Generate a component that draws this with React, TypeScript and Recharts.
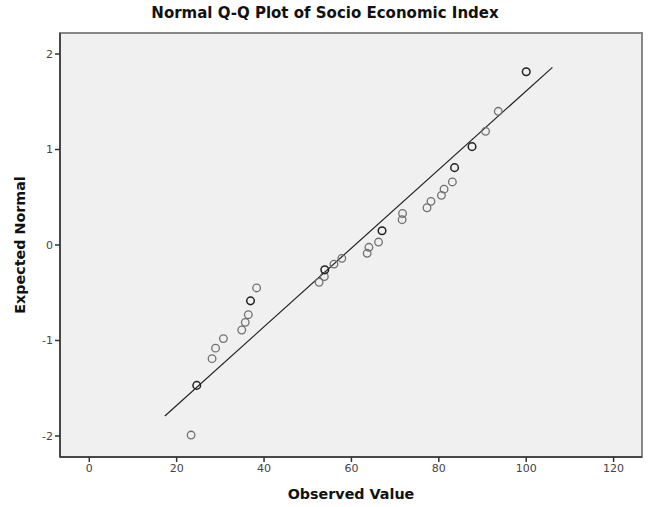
import React from 'react';
import {
  ScatterChart,
  Scatter,
  XAxis,
  YAxis,
  ReferenceArea,
  ReferenceLine,
  Label,
} from 'recharts';

// observed Socio Economic Index values and their expected normal quantiles
const observed = [
  23.3, 24.6, 28.1, 28.9, 30.7, 34.9, 35.7, 36.4, 36.9, 38.3, 52.6, 53.8, 53.9, 56.0, 57.8, 63.6,
  64.0, 66.2, 67.0, 71.6, 71.7, 77.3, 78.2, 80.6, 81.2, 83.1, 83.6, 87.6, 90.7, 93.6, 100.0,
];
const expected = [
  -1.99, -1.47, -1.19, -1.08, -0.98, -0.89, -0.81, -0.73, -0.585, -0.45, -0.39, -0.33, -0.26, -0.2,
  -0.14, -0.087, -0.024, 0.031, 0.15, 0.265, 0.33, 0.39, 0.457, 0.52, 0.585, 0.66, 0.81, 1.03, 1.19,
  1.4, 1.815,
];
// values that occur more than once (drawn darker)
const tiedValues = [24.6, 36.9, 53.9, 67.0, 83.6, 87.6, 100.0];

// reference line ends
const lineX = [17.3, 106.0];
const lineY = [-1.79, 1.86];

const xTicks = [0, 20, 40, 60, 80, 100, 120];
const yTicks = [-2, -1, 0, 1, 2];
const xDomain = [-6.7, 126.5];
const yDomain = [-2.22, 2.22];

const points = observed.map((x, i) => ({ x, y: expected[i] }));
const singles = points.filter((p) => !tiedValues.includes(p.x));
const ties = points.filter((p) => tiedValues.includes(p.x));

const FONT = '"DejaVu Sans", Verdana, sans-serif';

function ring(color: string, width: number) {
  return (props: any) => (
    <circle cx={props.cx} cy={props.cy} r={3.8} fill="none" stroke={color} strokeWidth={width} />
  );
}

export default function App() {
  return (
    <div style={{ position: 'absolute', left: 0, top: 0, width: 650, height: 507, background: '#fff' }}>
      <div
        style={{
          position: 'absolute',
          top: 4,
          left: 0,
          width: 650,
          textAlign: 'center',
          fontFamily: FONT,
          fontWeight: 'bold',
          fontSize: 15,
          color: '#111',
        }}
      >
        Normal Q-Q Plot of Socio Economic Index
      </div>
      <ScatterChart width={650} height={507} margin={{ top: 33, right: 8, bottom: 20, left: 0 }}>
        <XAxis
          type="number"
          dataKey="x"
          domain={xDomain}
          ticks={xTicks}
          allowDataOverflow
          height={30}
          axisLine={{ stroke: '#333', strokeWidth: 1.5 }}
          tickLine={{ stroke: '#333', strokeWidth: 1.5 }}
          tickSize={5}
          tick={{ fontSize: 11, fill: '#444', fontFamily: FONT }}
        >
          <Label
            value="Observed Value"
            position="bottom"
            offset={2}
            style={{ fontSize: 14.3, fontWeight: 'bold', fill: '#111', fontFamily: FONT }}
          />
        </XAxis>
        <YAxis
          type="number"
          dataKey="y"
          domain={yDomain}
          ticks={yTicks}
          allowDataOverflow
          width={60}
          axisLine={{ stroke: '#333', strokeWidth: 1.5 }}
          tickLine={{ stroke: '#333', strokeWidth: 1.5 }}
          tickSize={5}
          tick={{ fontSize: 11, fill: '#444', fontFamily: FONT }}
        >
          <Label
            value="Expected Normal"
            angle={-90}
            position="insideLeft"
            offset={20}
            style={{ textAnchor: 'middle', fontSize: 14.3, fontWeight: 'bold', fill: '#111', fontFamily: FONT }}
          />
        </YAxis>
        <ReferenceArea
          x1={xDomain[0]}
          x2={xDomain[1]}
          y1={yDomain[0]}
          y2={yDomain[1]}
          fill="#f0f0f0"
          fillOpacity={1}
          stroke="#888"
          strokeWidth={2}
        />
        <ReferenceLine
          segment={[
            { x: lineX[0], y: lineY[0] },
            { x: lineX[1], y: lineY[1] },
          ]}
          stroke="#222"
          strokeWidth={1.2}
        />
        <Scatter data={singles} shape={ring('#707070', 1.3)} isAnimationActive={false} />
        <Scatter data={ties} shape={ring('#222', 1.5)} isAnimationActive={false} />
      </ScatterChart>
    </div>
  );
}
